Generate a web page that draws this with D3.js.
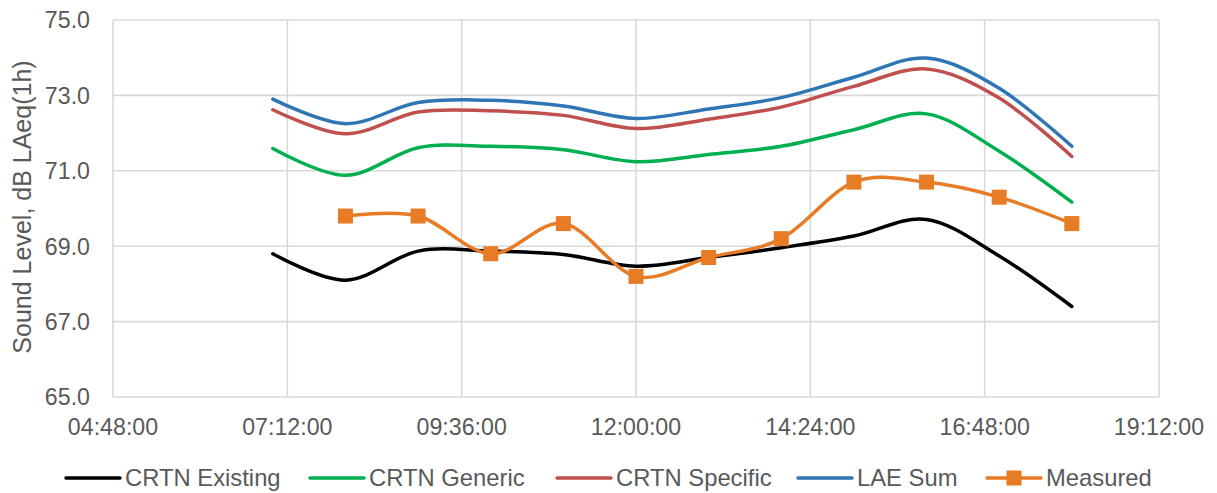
<!DOCTYPE html>
<html><head><meta charset="utf-8">
<script src="https://cdn.jsdelivr.net/npm/d3@7"></script>
<style>body{margin:0;background:#fff;} text{font-family:"Liberation Sans",Arial,sans-serif;fill:#595959;}</style>
</head><body><svg id="c" width="1217" height="493"></svg>
<script>
const hours = [7,8,9,10,11,12,13,14,15,16,17,18];
const crtnExisting = [68.8,68.1,68.87,68.87,68.78,68.47,68.70,68.96,69.27,69.71,68.74,67.40];
const crtnGeneric  = [71.59,70.88,71.61,71.65,71.56,71.24,71.43,71.65,72.09,72.51,71.52,70.17];
const crtnSpecific = [72.62,71.98,72.56,72.59,72.47,72.12,72.37,72.69,73.24,73.70,72.93,71.38];
const laeSum       = [72.90,72.25,72.81,72.87,72.72,72.39,72.64,72.94,73.48,73.99,73.19,71.65];
const measuredHours = [8,9,10,11,12,13,14,15,16,17,18];
const measured = [69.8,69.8,68.8,69.6,68.2,68.7,69.2,70.7,70.7,70.3,69.6];
const xTickHours = [4.8,7.2,9.6,12.0,14.4,16.8,19.2];
const xTickLabels = ["04:48:00","07:12:00","09:36:00","12:00:00","14:24:00","16:48:00","19:12:00"];
const yTicks = [65,67,69,71,73,75];
const seriesNames = ["CRTN Existing","CRTN Generic","CRTN Specific","LAE Sum","Measured"];
const colors = ["#000000","#00B050","#C0504D","#2E75B6","#E87B25"];

const svg = d3.select("#c");
const L=113,R=1159,T=20,B=397;
const x = d3.scaleLinear().domain([4.8,19.2]).range([L,R]);
const y = d3.scaleLinear().domain([65,75]).range([B,T]);

const g = svg.append("g");
g.selectAll(".hg").data(yTicks).enter().append("line")
  .attr("x1",L).attr("x2",R).attr("y1",d=>y(d)).attr("y2",d=>y(d))
  .attr("stroke","#D9D9D9").attr("stroke-width",1.6);
g.selectAll(".vg").data(xTickHours).enter().append("line")
  .attr("y1",T).attr("y2",B).attr("x1",d=>x(d)).attr("x2",d=>x(d))
  .attr("stroke","#D9D9D9").attr("stroke-width",1.6);

svg.append("g").selectAll("text").data(yTicks).enter().append("text")
  .attr("x",90).attr("y",d=>y(d)).attr("dy","0.36em").attr("text-anchor","end")
  .attr("font-size","23.2px").text(d=>d.toFixed(1));
svg.append("g").selectAll("text").data(xTickHours).enter().append("text")
  .attr("x",d=>x(d)).attr("y",435).attr("text-anchor","middle")
  .attr("font-size","23.2px").text((d,i)=>xTickLabels[i]);
svg.append("text").attr("transform","translate(31,207) rotate(-90)")
  .attr("text-anchor","middle").attr("font-size","25px").text("Sound Level, dB LAeq(1h)");

const line = d3.line().x(d=>x(d[0])).y(d=>y(d[1])).curve(d3.curveCatmullRom.alpha(0));
const series = [crtnExisting,crtnGeneric,crtnSpecific,laeSum];
series.forEach((vals,i)=>{
  svg.append("path").datum(hours.map((h,j)=>[h,vals[j]]))
    .attr("d",line).attr("fill","none").attr("stroke",colors[i])
    .attr("stroke-width",3.5).attr("stroke-linecap","round");
});
const mData = measuredHours.map((h,j)=>[h,measured[j]]);
svg.append("path").datum(mData).attr("d",line).attr("fill","none")
  .attr("stroke",colors[4]).attr("stroke-width",3.5);
svg.append("g").selectAll("rect").data(mData).enter().append("rect")
  .attr("x",d=>x(d[0])-7.5).attr("y",d=>y(d[1])-7.5).attr("width",15).attr("height",15)
  .attr("fill",colors[4]);

const legX = [66,310,557,798,987];
const lg = svg.append("g");
seriesNames.forEach((n,i)=>{
  lg.append("line").attr("x1",legX[i]).attr("x2",legX[i]+54).attr("y1",478).attr("y2",478)
    .attr("stroke",colors[i]).attr("stroke-width",3.5).attr("stroke-linecap","round");
  if(i===4) lg.append("rect").attr("x",legX[i]+27-7.5).attr("y",478-7.5).attr("width",15).attr("height",15).attr("fill",colors[i]);
  lg.append("text").attr("x",legX[i]+59).attr("y",486).attr("font-size","23.8px").text(n);
});
</script></body></html>
